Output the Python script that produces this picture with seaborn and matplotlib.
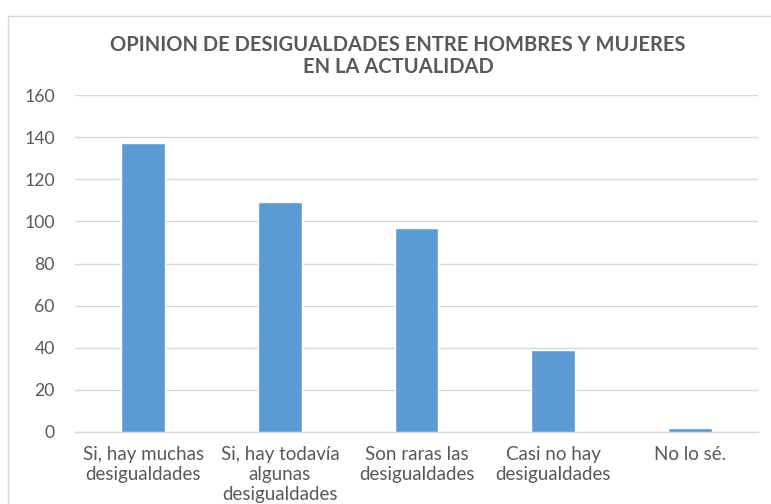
import matplotlib
matplotlib.use('Agg')
import matplotlib.pyplot as plt
import seaborn as sns
import pandas as pd
from matplotlib.patches import Rectangle

# Chart data
categorias = ['Si, hay muchas\ndesigualdades', 'Si, hay todavía\nalgunas\ndesigualdades',
              'Son raras las\ndesigualdades', 'Casi no hay\ndesigualdades', 'No lo sé.']
respuestas = [137, 109, 97, 39, 2]
y_ticks = [0, 20, 40, 60, 80, 100, 120, 140, 160]

sns.set_style('white')
plt.rcParams['font.family'] = ['Lato', 'DejaVu Sans']

df = pd.DataFrame({'categoria': categorias, 'n': respuestas})

fig = plt.figure(figsize=(7.71, 5.04), dpi=100)
ax = fig.add_axes([75 / 771, 1 - 432 / 504, 683 / 771, 337 / 504])

sns.barplot(data=df, x='categoria', y='n', color='#5b9bd5', width=0.32,
            saturation=1, ax=ax, zorder=3)

ax.set_ylim(0, 160)
ax.set_xlim(-0.5, 4.5)
ax.set_yticks(y_ticks)
ax.yaxis.grid(True, color='#d9d9d9', linewidth=1, zorder=0)
ax.set_axisbelow(True)
for side in ['top', 'right', 'left']:
    ax.spines[side].set_visible(False)
ax.spines['bottom'].set_color('#d9d9d9')
ax.spines['bottom'].set_linewidth(1)
ax.tick_params(axis='both', length=0, colors='#595959')
ax.tick_params(axis='y', pad=14.5, labelsize=12.7)
ax.tick_params(axis='x', pad=10, labelsize=13.5)
for lbl in ax.get_xticklabels():
    lbl.set_linespacing(1.22)
ax.set_xlabel('')
ax.set_ylabel('')

fig.text(398 / 771, 1 - 56 / 504,
         'OPINION DE DESIGUALDADES ENTRE HOMBRES Y MUJERES\nEN LA ACTUALIDAD',
         ha='center', va='center', fontsize=14.5, fontweight='bold',
         color='#595959', linespacing=1.17)

# outer chart frame
fig.patches.append(Rectangle((8 / 771, -0.1), 1.1, 1 - 16 / 504 + 0.1,
                             transform=fig.transFigure, fill=False,
                             edgecolor='#d9d9d9', linewidth=1))

fig.savefig('out.png', dpi=100)
